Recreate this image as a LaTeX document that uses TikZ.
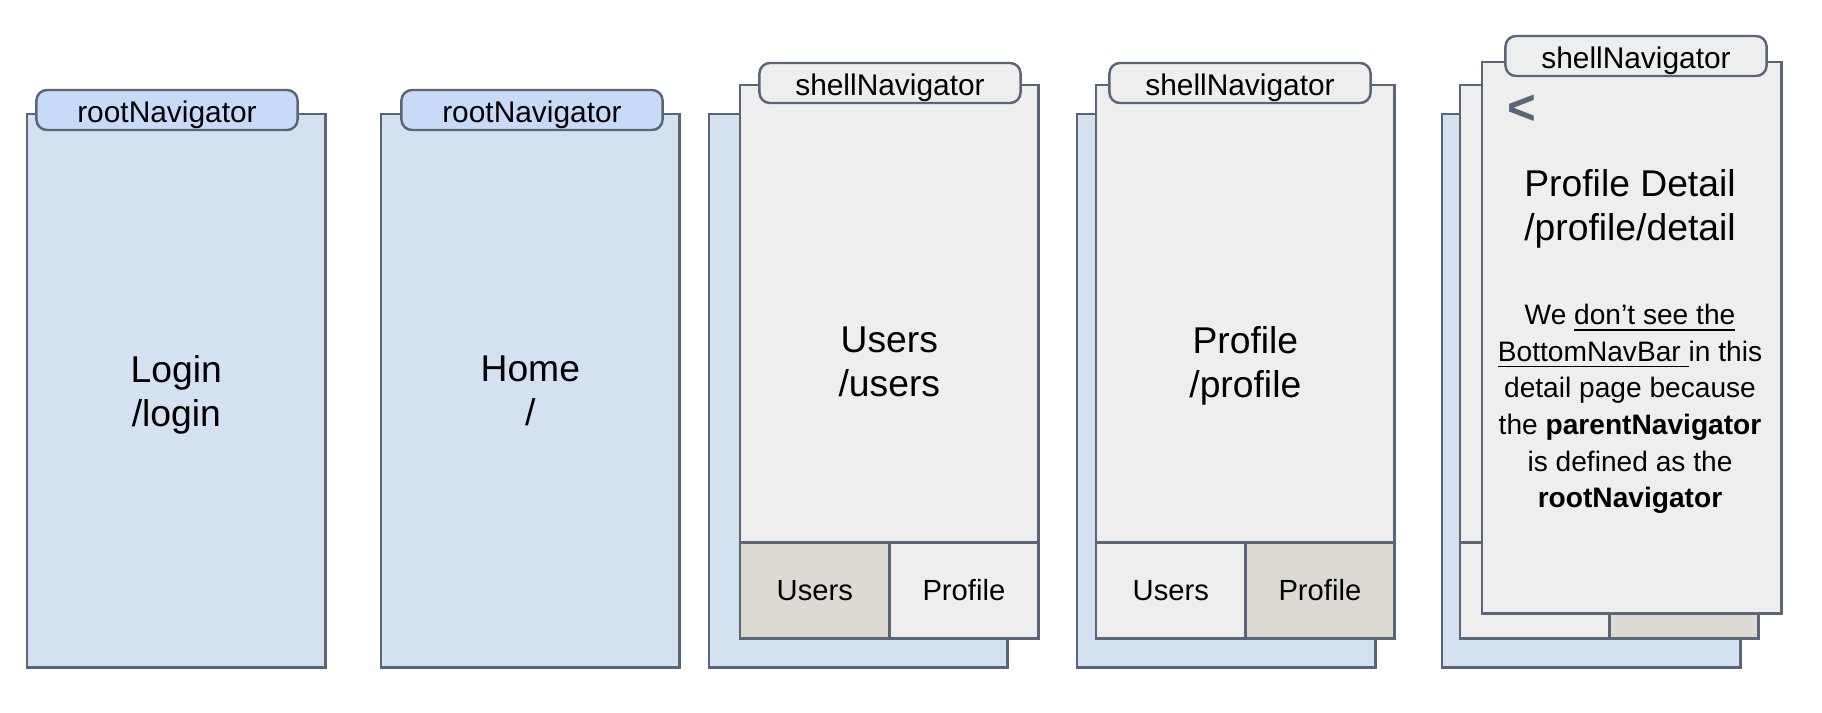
\documentclass[tikz,border=0pt]{standalone}
\usepackage{fontspec}
\setmainfont{Liberation Sans}
\usetikzlibrary{positioning,shadows}
\definecolor{edgegray}{HTML}{5A6678}
\definecolor{paneblue}{HTML}{D4E1F1}
\definecolor{tabblue}{HTML}{C9DAF8}
\definecolor{panegray}{HTML}{EEEEEE}
\definecolor{cellbeige}{HTML}{DDDAD3}
\begin{document}
\begin{tikzpicture}
[x=0.01cm, y=-0.01cm,
 edgeshadow/.style={drop shadow={shadow xshift=0.4pt,shadow yshift=-0.4pt,fill=edgegray,opacity=1}},%
 screendecorate/.style={shape=rectangle,draw=edgegray,line width=0.7pt,inner sep=0pt,edgeshadow,%
   minimum width=2.98cm,minimum height=5.53cm,anchor=north west},%
 bluescreen/.style={screendecorate,fill=paneblue},%
 grayscreen/.style={screendecorate,fill=panegray},%
 tabdecorate/.style={shape=rectangle,rounded corners=3pt,draw=edgegray,line width=0.7pt,%
   inner sep=0pt,minimum width=2.61cm,minimum height=0.40cm,text height=0.73em,text depth=0pt,%
   font=\fontsize{8.5}{10}\selectfont},%
 roottab/.style={tabdecorate,fill=tabblue},%
 shelltab/.style={tabdecorate,fill=panegray},%
 navcell/.style={shape=rectangle,draw=edgegray,line width=0.7pt,inner sep=0pt,edgeshadow,%
   minimum width=1.49cm,minimum height=0.96cm,font=\fontsize{8.3}{10}\selectfont},%
 routetext/.style={align=center,text depth=0pt,font=\fontsize{10.6}{12.5}\selectfont}]
\useasboundingbox (0,0) rectangle (1822,712);
%% screens of the root navigator
\foreach \screenname/\x/\tabx/\title/\route in {login/26/167/Login/{/login},
 home/380/532/Home/{/}}
{
  \node[bluescreen] (\screenname) at (\x,113) {};
  \node[roottab] (\screenname-tab) at (\tabx,110) {rootNavigator};
  \node[routetext] (\screenname-text) at (\screenname.center) {\title\\\route};
}
%% screens of the shell navigator
\foreach \screenname/\xback/\xfront/\tabx/\title/\route/\usersfill/\profilefill in
 {users/708/739/890/Users/{/users}/cellbeige/panegray,
  profile/1076/1095/1240/Profile/{/profile}/panegray/cellbeige}
{
  \node[bluescreen] (\screenname-root) at (\xback,113) {};
  \node[grayscreen] (\screenname) at (\xfront,84) {};
  \node[shelltab] (\screenname-tab) at (\tabx,83) {shellNavigator};
  \node[navcell,fill=\usersfill,anchor=south west] (\screenname-users) at (\screenname.south west) {Users};
  \node[navcell,fill=\profilefill,anchor=south east] (\screenname-profile) at (\screenname.south east) {Profile};
  \node[routetext] (\screenname-text) at (\screenname.center) {\title\\\route};
}
%% detail page stacked on top
\node[bluescreen] (detail-root) at (1441,113) {};
\node[grayscreen] (detail-shell) at (1459,84) {};
\node[navcell,fill=panegray,anchor=south west] (detail-users) at (detail-shell.south west) {};
\node[navcell,fill=cellbeige,anchor=south east] (detail-profile) at (detail-shell.south east) {};
\node[grayscreen,minimum width=2.99cm,minimum height=5.51cm] (detail) at (1481,61) {};
\node[shelltab] (detail-tab) at (1636,56) {shellNavigator};
\node[text=edgegray,font=\fontsize{14}{14}\selectfont\bfseries] (detail-chevron) at (1522,110) {<};
\node[routetext] (detail-title) at (1630,205) {Profile Detail\\/profile/detail};
\node[align=center,text depth=0pt,font=\fontsize{8}{10.4}\selectfont] (detail-note) at (1630,406)
 {We \underline{don’t see the}\\ \underline{BottomNavBar\ }in this\\ detail page because\\
  the \textbf{parentNavigator}\\ is defined as the\\ \textbf{rootNavigator}};
\end{tikzpicture}
\end{document}
